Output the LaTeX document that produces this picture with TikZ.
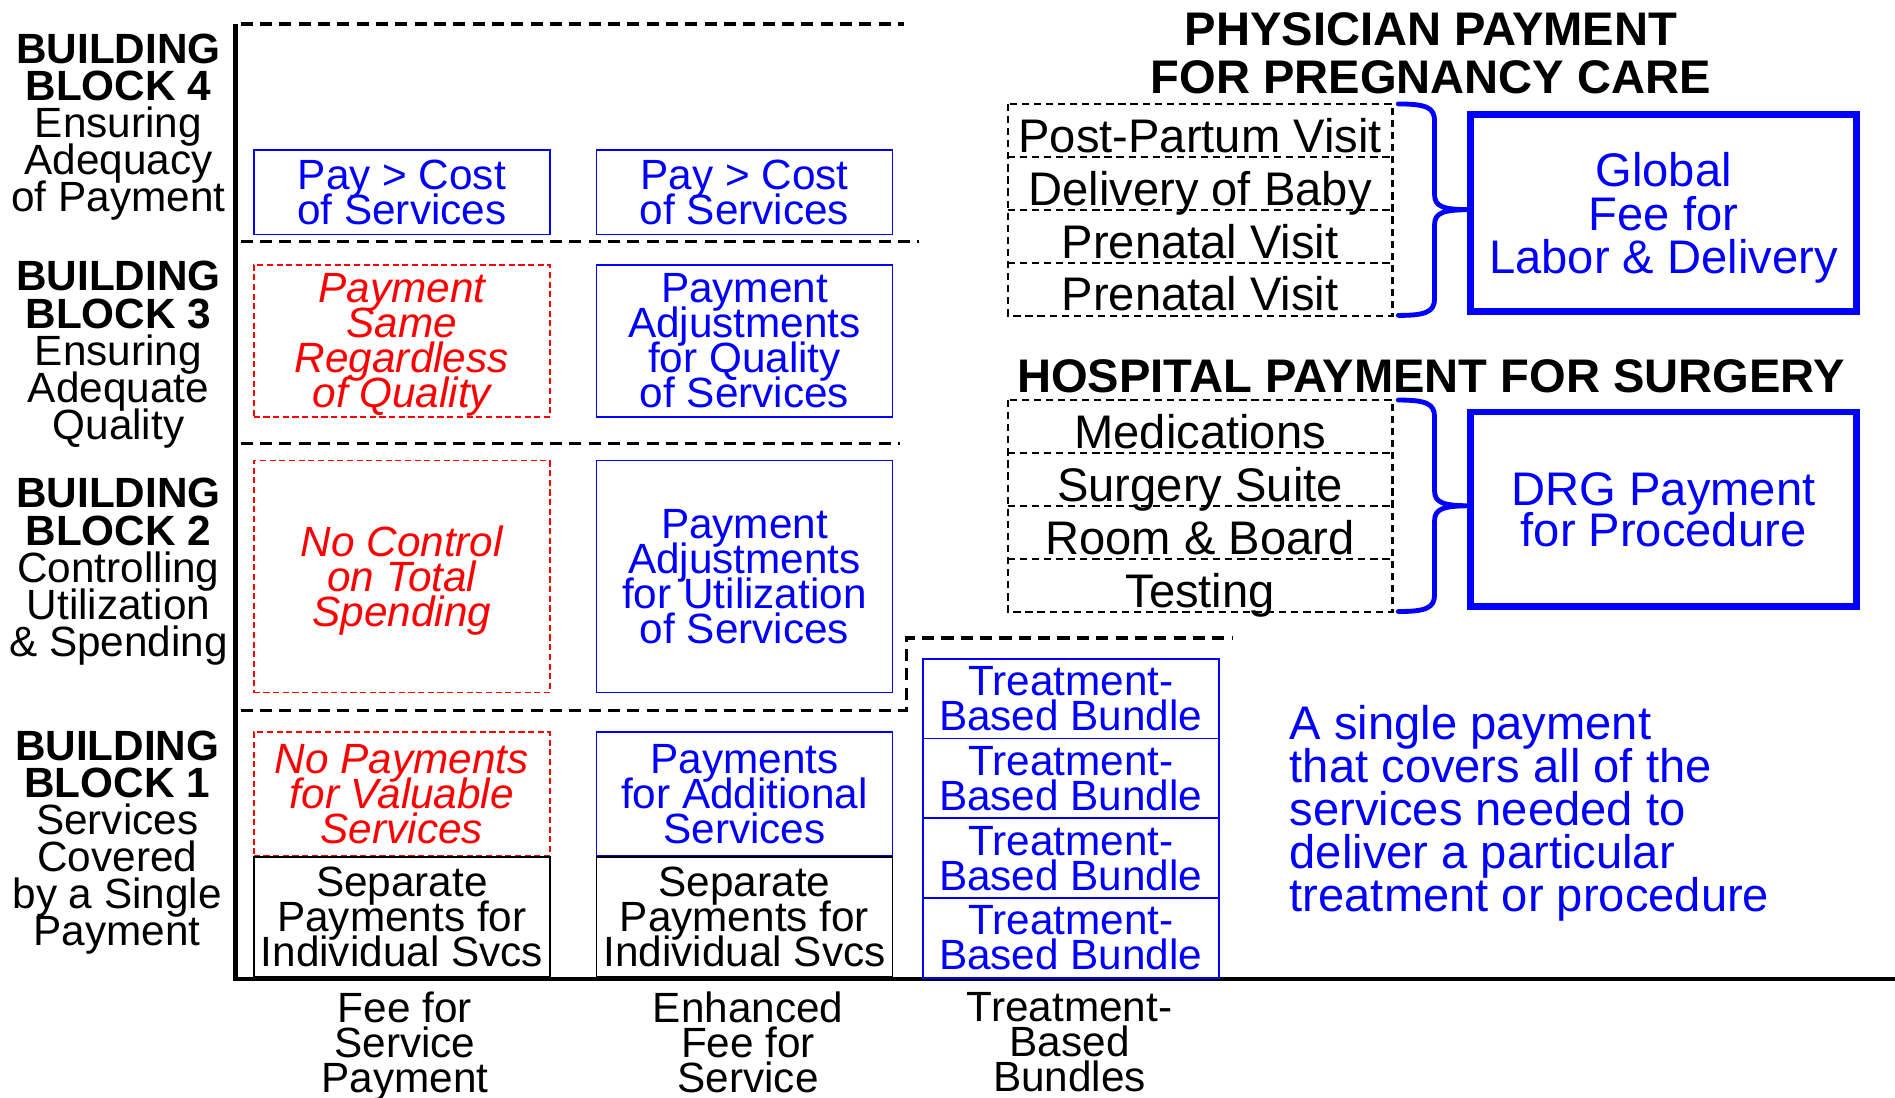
\documentclass[tikz,border=0pt]{standalone}
\usepackage{fontspec}
\setmainfont{Liberation Sans}
\definecolor{bl}{RGB}{0,0,255}
\definecolor{rd}{RGB}{255,0,0}
\newcommand{\fsa}{\fontsize{35}{29}\selectfont\lineskiplimit=-100pt\relax}
\newcommand{\fsb}{\fontsize{35}{30.75}\selectfont\lineskiplimit=-100pt\relax}
\newcommand{\fsc}{\fontsize{39}{36}\selectfont\lineskiplimit=-100pt\relax}
\newcommand{\fsd}{\fontsize{39}{34}\selectfont\lineskiplimit=-100pt\relax}
\newcommand{\fse}{\fontsize{39}{35.5}\selectfont\lineskiplimit=-100pt\relax}
\newcommand{\fsh}{\fontsize{39}{40}\selectfont\lineskiplimit=-100pt\relax\bfseries}
\tikzset{
  lbl/.style={inner sep=0pt, align=center, text depth=0pt, font=\fsb},
  txt/.style={inner sep=0pt, align=center, text depth=0pt, font=\fsa},
  colbox/.style={inner sep=0pt, align=center, text depth=0pt, minimum width=245pt, font=\fsa},
  bluebox/.style={colbox, draw=bl, line width=1.5pt, text=bl},
  redbox/.style={colbox, draw=rd, line width=1.5pt, dash pattern=on 5pt off 3pt, text=rd, font=\fsa\itshape},
  blackbox/.style={colbox, draw=black, line width=1.5pt},
  rowbox/.style={inner sep=0pt, minimum width=318pt, minimum height=43.75pt, text height=36pt, text depth=0pt, font=\fsc},
  rowline/.style={line width=1.8pt, dash pattern=on 6pt off 4pt},
  bigbox/.style={draw=bl, line width=5.5pt, text=bl, inner sep=0pt, align=center, minimum width=319pt, font=\fsc},
  head/.style={inner sep=0pt, align=center, text depth=0pt, font=\fsh},
  axisline/.style={line width=4pt, line join=miter},
  dline/.style={line width=2.8pt, dash pattern=on 10pt off 6pt},
  bracestyle/.style={draw=bl, line width=4pt, line cap=round, line join=round},
}
\begin{document}
\begin{tikzpicture}[x=1pt,y=-1pt]
\useasboundingbox (0,0) rectangle (1568,908);

% axes
\coordinate (axtop) at (195,20);
\coordinate (axcorner) at (195,810);
\coordinate (axright) at (1568,810);
\draw[axisline] (axtop) -- (axcorner) -- (axright);

% dashed separators
\coordinate (d4a) at (199,20);  \coordinate (d4b) at (748,20);
\coordinate (d3a) at (199,200); \coordinate (d3b) at (760,200);
\coordinate (d2a) at (199,367); \coordinate (d2b) at (745,367);
\coordinate (d1a) at (199,588); \coordinate (d1b) at (750,588);
\coordinate (d1c) at (750,528); \coordinate (d1d) at (1020,528);
\draw[dline] (d4a) -- (d4b);
\draw[dline] (d3a) -- (d3b);
\draw[dline] (d2a) -- (d2b);
\draw[dline] (d1a) -- (d1b) -- (d1c) -- (d1d);

% left labels
\node[lbl] (bb4) at (98,101.5) {\textbf{BUILDING}\\\textbf{BLOCK 4}\\Ensuring\\Adequacy\\of Payment};
\node[lbl] (bb3) at (98,290) {\textbf{BUILDING}\\\textbf{BLOCK 3}\\Ensuring\\Adequate\\Quality};
\node[lbl] (bb2) at (98,469.5) {\textbf{BUILDING}\\\textbf{BLOCK 2}\\Controlling\\Utilization\\\& Spending};
\node[lbl] (bb1) at (97,693.5) {\textbf{BUILDING}\\\textbf{BLOCK 1}\\Services\\Covered\\by a Single\\Payment};

% column 1
\node[bluebox, minimum height=70pt] (c1p) at (332.5,159) {Pay > Cost\\of Services};
\node[redbox, minimum height=126pt] (c1q) at (332.5,282) {Payment\\Same\\Regardless\\of Quality};
\node[redbox, minimum height=192pt] (c1u) at (332.5,477) {No Control\\on Total\\Spending};
\node[redbox, minimum height=102pt] (c1s) at (332.5,657) {No Payments\\for Valuable\\Services};
\node[blackbox, minimum height=99pt] (c1i) at (332.5,758.5) {Separate\\Payments for\\Individual Svcs};

% column 2
\node[bluebox, minimum height=70pt] (c2p) at (616,159) {Pay > Cost\\of Services};
\node[bluebox, minimum height=126pt] (c2q) at (616,282) {Payment\\Adjustments\\for Quality\\of Services};
\node[bluebox, minimum height=192pt] (c2u) at (616,477) {Payment\\Adjustments\\for Utilization\\of Services};
\node[bluebox, minimum height=102pt] (c2s) at (616,657) {Payments\\for Additional\\Services};
\node[blackbox, minimum height=99pt] (c2i) at (616,758.5) {Separate\\Payments for\\Individual Svcs};

% column 3
\node[bluebox, minimum height=66pt] (c3a) at (886,578) {Treatment-\\Based Bundle};
\node[bluebox, minimum height=66pt] (c3b) at (886,644) {Treatment-\\Based Bundle};
\node[bluebox, minimum height=66pt] (c3c) at (886,710) {Treatment-\\Based Bundle};
\node[bluebox, minimum height=66pt] (c3d) at (886,776) {Treatment-\\Based Bundle};

% x-axis labels
\node[txt] (x1) at (335,862) {Fee for\\Service\\Payment};
\node[txt] (x2) at (619,862) {Enhanced\\Fee for\\Service};
\node[txt] (x3) at (885,862) {Treatment-\\Based\\Bundles};

% physician payment
\node[head] (h1) at (1184,44) {PHYSICIAN PAYMENT\\FOR PREGNANCY CARE};
\node[rowbox] (r1) at (993,108) {Post-Partum Visit};
\node[rowbox] (r2) at (993,151.75) {Delivery of Baby};
\node[rowbox] (r3) at (993,195.5) {Prenatal Visit};
\node[rowbox] (r4) at (993,239.25) {Prenatal Visit};
\draw[rowline] (r1.north west) rectangle (r4.south east);
\draw[rowline] (r1.south west) -- (r1.south east);
\draw[rowline] (r2.south west) -- (r2.south east);
\draw[rowline] (r3.south west) -- (r3.south east);
\node[bigbox, minimum height=163pt, text depth=-4pt] (g1) at (1376.5,176.5) {Global\\Fee for\\Labor \& Delivery};
\coordinate (t1) at (1157,86);
\coordinate (m1) at (1217,173.5);
\coordinate (b1) at (1157,261);
\draw[bracestyle] (t1) .. controls (1180,86) and (1187,89) .. (1187,100)
  -- (1187,161) .. controls (1187,171) and (1194,173.5) .. (m1)
  .. controls (1194,173.5) and (1187,176) .. (1187,186)
  -- (1187,247) .. controls (1187,258) and (1180,261) .. (b1);

% hospital payment
\node[head] (h2) at (1184,311) {HOSPITAL PAYMENT FOR SURGERY};
\node[rowbox] (s1) at (993,353) {Medications};
\node[rowbox] (s2) at (993,396.75) {Surgery Suite};
\node[rowbox] (s3) at (993,440.5) {Room \& Board};
\node[rowbox] (s4) at (993,484.25) {Testing};
\draw[rowline] (s1.north west) rectangle (s4.south east);
\draw[rowline] (s1.south west) -- (s1.south east);
\draw[rowline] (s2.south west) -- (s2.south east);
\draw[rowline] (s3.south west) -- (s3.south east);
\node[bigbox, minimum height=161pt, text depth=-6pt, font=\fsd] (g2) at (1376.5,421.5) {DRG Payment\\for Procedure};
\coordinate (t2) at (1157,331);
\coordinate (m2) at (1217,418.5);
\coordinate (b2) at (1157,506);
\draw[bracestyle] (t2) .. controls (1180,331) and (1187,334) .. (1187,345)
  -- (1187,406) .. controls (1187,416) and (1194,418.5) .. (m2)
  .. controls (1194,418.5) and (1187,421) .. (1187,431)
  -- (1187,492) .. controls (1187,503) and (1180,506) .. (b2);

% explanation
\node[inner sep=0pt, align=left, anchor=west, text depth=0pt, text=bl, font=\fse] (expl) at (1067,669)
  {A single payment\\that covers all of the\\services needed to\\deliver a particular\\treatment or procedure};
\end{tikzpicture}
\end{document}
